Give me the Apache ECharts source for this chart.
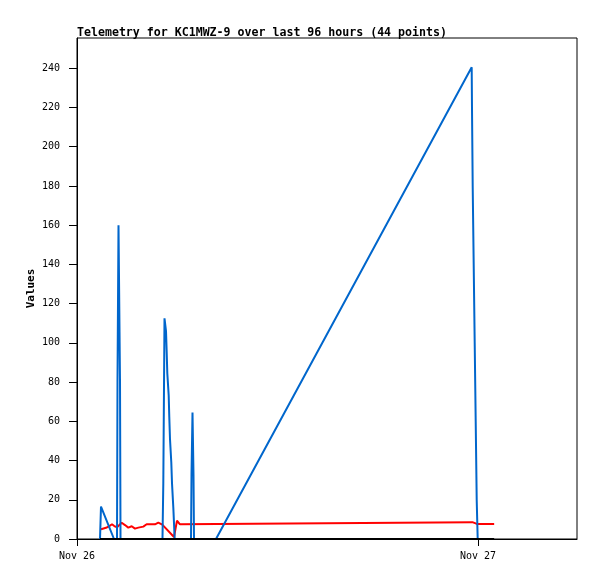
<!DOCTYPE html>
<html>
<head>
<meta charset="utf-8">
<script src="https://cdn.jsdelivr.net/npm/echarts@6/dist/echarts.min.js"></script>
<style>
html,body{margin:0;padding:0;background:#fff;}
#c{width:597px;height:579px;}
</style>
</head>
<body>
<div id="c"></div>
<script>
// Hours since Nov 26 00:00 and values
const blueHours  = [1.377, 1.436, 2.214, 2.394, 2.424, 2.484, 2.574, 2.604, 5.117, 5.165, 5.237, 5.327, 5.369, 5.405, 5.489, 5.524, 5.566, 5.644, 5.686, 5.765, 5.847, 6.823, 6.853, 6.913, 6.973, 7.003, 8.319, 23.623, 23.641, 23.683, 23.743, 23.803, 23.863, 23.923, 23.982];
const blueValues = [0, 16.5, 0, 0, 80, 160, 80, 0, 0, 28, 112.5, 106, 95, 84.5, 73, 62, 51, 39, 28.5, 16, 0, 0, 32.5, 64.5, 32.5, 0, 0, 240.5, 220, 180, 140, 100, 60, 20, 0];

const redHours  = [1.436, 1.735, 1.933, 2.094, 2.232, 2.394, 2.674, 2.873, 3.070, 3.274, 3.471, 3.670, 3.969, 4.168, 4.667, 4.867, 5.105, 5.805, 5.985, 6.164, 23.664, 23.933, 24.968];
const redValues = [5, 5.7, 6.6, 7.5, 6.6, 6, 8.3, 7.1, 5.8, 6.5, 5.3, 5.8, 6.3, 7.5, 7.5, 8.3, 7.3, 1, 9.3, 7.5, 8.6, 7.7, 7.7];

const blackHours  = [1.377, 24.968];
const blackValues = [0, 0];

const xTickValues = [0, 24];
const xTickLabels = ['Nov 26', 'Nov 27'];
const yTickValues = [0, 20, 40, 60, 80, 100, 120, 140, 160, 180, 200, 220, 240];

const titleText = 'Telemetry for KC1MWZ-9 over last 96 hours (44 points)';

function pairs(xs, ys) { return xs.map((x, i) => [x, ys[i]]); }

const chart = echarts.init(document.getElementById('c'), null, {renderer: 'canvas'});
const mono = '"DejaVu Sans Mono", monospace';
chart.setOption({
  animation: false,
  backgroundColor: '#fff',
  title: {
    text: titleText,
    left: 77,
    top: 27,
    padding: 0,
    textStyle: {fontFamily: mono, fontSize: 11.6, fontWeight: 'bold', color: '#000'}
  },
  grid: {
    left: 77, top: 38, width: 500, height: 501,
    show: true, borderColor: '#000', borderWidth: 1, backgroundColor: 'transparent'
  },
  xAxis: {
    type: 'value', min: 0, max: 29.926,
    axisLine: {show: true, lineStyle: {color: '#000', width: 1}},
    axisTick: {show: true, inside: false, length: 7, lineStyle: {color: '#000'}, customValues: xTickValues},
    axisLabel: {
      customValues: xTickValues, margin: 12,
      fontFamily: mono, fontSize: 10, color: '#000',
      formatter: v => xTickLabels[xTickValues.indexOf(v)] || ''
    },
    splitLine: {show: false}
  },
  yAxis: {
    type: 'value', min: 0, max: 255.4,
    name: 'Values', nameLocation: 'middle', nameGap: 40, nameRotate: 90, nameMoveOverlap: false,
    nameTextStyle: {fontFamily: mono, fontSize: 11, fontWeight: 'bold', color: '#000'},
    axisLine: {show: true, lineStyle: {color: '#000', width: 1}},
    axisTick: {show: true, inside: false, length: 8, lineStyle: {color: '#000'}, customValues: yTickValues},
    axisLabel: {customValues: yTickValues, margin: 17, fontFamily: mono, fontSize: 10, color: '#000'},
    splitLine: {show: false}
  },
  series: [
    {type: 'line', data: pairs(redHours, redValues), showSymbol: false, symbol: 'none',
     lineStyle: {color: '#ff0000', width: 2}, itemStyle: {color: '#ff0000'}},
    {type: 'line', data: pairs(blueHours, blueValues), showSymbol: false, symbol: 'none',
     lineStyle: {color: '#0066cc', width: 2}, itemStyle: {color: '#0066cc'}},
    {type: 'line', data: pairs(blackHours, blackValues), showSymbol: false, symbol: 'none',
     lineStyle: {color: '#000000', width: 2}, itemStyle: {color: '#000'}}
  ]
});
</script>
</body>
</html>
